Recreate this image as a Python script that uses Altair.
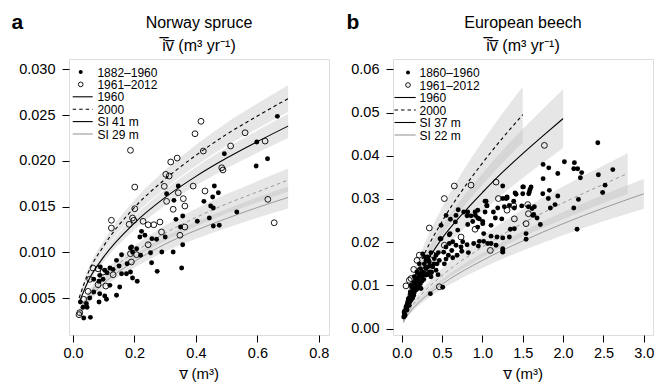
import altair as alt
import pandas as pd

FONT = "Liberation Sans"

# ---------------- Panel a : Norway spruce ----------------
a_fill_v = [0.665,0.598,0.633,0.596,0.4925,0.3425,0.3045,0.46,0.473,0.4545,0.426,0.533,0.4045,0.4566,0.448,0.4436,0.4566,0.476,
            0.357,0.35,0.357,0.3535,0.3285,0.335,0.326,0.30,0.289,0.272,0.2567,0.2524,0.2557,0.274,0.234,0.223,0.2175,0.22,0.207,
            0.1905,0.1937,0.187,0.176,0.187,0.1937,0.209,0.158,0.1416,0.15,0.12,0.1305,0.111,0.1034,0.087,0.0848,0.0978,0.158,0.174,
            0.152,0.1416,0.109,0.1034,0.12,0.0848,0.087,0.0675,0.0545,0.0437,0.0457,0.035,0.0567,0.0326,0.0675,0.024,0.089]
a_fill_iv = [0.02486,0.02205,0.02023,0.01943,0.02078,0.01724,0.01640,0.01724,0.01651,0.01604,0.01557,0.0144,0.01339,0.01484,0.01506,0.01375,0.01287,0.01295,
             0.01397,0.01276,0.01083,0.00828,0.01568,0.0136,0.01003,0.01167,0.01003,0.01142,0.01149,0.00995,0.00886,0.00792,0.01186,0.01229,0.01167,0.00967,0.01039,
             0.01058,0.01003,0.01047,0.00875,0.00784,0.00719,0.00683,0.00974,0.00912,0.0085,0.00828,0.00813,0.00777,0.00803,0.00748,0.00683,0.00705,0.00766,0.00766,
             0.0062,0.0053,0.00486,0.00522,0.00639,0.00457,0.00547,0.00566,0.005,0.00438,0.004,0.00282,0.00289,0.004,0.00705,0.00457,0.00839]
a_open_v = [0.187,0.201,0.397,0.4165,0.56,0.625,0.513,0.424,0.484,0.488,0.339,0.318,0.302,0.313,0.297,0.391,0.4295,0.3425,0.359,0.634,0.6546,
            0.364,0.364,0.348,0.326,0.3046,0.288,0.283,0.263,0.2446,0.2446,0.228,0.207,0.201,0.1937,0.1827,0.198,0.125,0.125,0.065,0.187,0.19,
            0.0978,0.1305,0.1067,0.0816,0.049,0.022,0.0196,0.035,0.0545,0.0816]
a_open_iv = [0.02115,0.01713,0.02296,0.02432,0.02307,0.02216,0.02162,0.02107,0.01924,0.0190,0.0203,0.01987,0.01852,0.01834,0.01721,0.01724,0.0167,0.01651,0.01586,0.01579,0.01323,
             0.01506,0.01276,0.01186,0.0147,0.01557,0.01222,0.01331,0.01301,0.01301,0.01083,0.01339,0.00974,0.01476,0.01375,0.01306,0.0135,0.0135,0.01265,0.00828,0.00985,0.00894,
             0.00784,0.00755,0.00631,0.00646,0.00573,0.0034,0.00318,0.00486,0.00705,0.0082]

a_v = [0.02, 0.05, 0.1, 0.2, 0.3, 0.4, 0.5, 0.6, 0.7]
a_k1960 = [0.0045, 0.0069, 0.0095, 0.0132, 0.0160, 0.0183, 0.0203, 0.0221, 0.0238]
a_k1960_lo = [0.00425, 0.00652, 0.00898, 0.01247, 0.01512, 0.01729, 0.01918, 0.02088, 0.02249]
a_k1960_hi = [0.00475, 0.00728, 0.01002, 0.01393, 0.01688, 0.01931, 0.02142, 0.02332, 0.02511]
a_k2000 = [0.0050, 0.0078, 0.0107, 0.0149, 0.0180, 0.0206, 0.0229, 0.0249, 0.0268]
a_k2000_lo = [0.00473, 0.00737, 0.01011, 0.01408, 0.01701, 0.01947, 0.02164, 0.02353, 0.02533]
a_k2000_hi = [0.00528, 0.00823, 0.01129, 0.01572, 0.01899, 0.02173, 0.02416, 0.02627, 0.02827]
a_g1960 = [0.0031, 0.0048, 0.0066, 0.0090, 0.0109, 0.0124, 0.0137, 0.0149, 0.0160]
a_g1960_lo = [0.00287, 0.00444, 0.00611, 0.00833, 0.01008, 0.01147, 0.01267, 0.01378, 0.0148]
a_g1960_hi = [0.00333, 0.00516, 0.0071, 0.00968, 0.01172, 0.01333, 0.01473, 0.01602, 0.0172]
a_g2000 = [0.0035, 0.0053, 0.0073, 0.0100, 0.0121, 0.0138, 0.0153, 0.0166, 0.0179]
a_g2000_lo = [0.00326, 0.00493, 0.00679, 0.0093, 0.01125, 0.01283, 0.01423, 0.01544, 0.01665]
a_g2000_hi = [0.00375, 0.00567, 0.00781, 0.0107, 0.01295, 0.01477, 0.01637, 0.01776, 0.01915]

# ---------------- Panel b : European beech ----------------
b_fill_v = [2.43,2.437,2.616,2.52,2.49,1.252,1.752,1.822,1.752,1.934,2.016,2.14,2.132,2.18,2.214,2.23,1.748,1.83,1.817,1.934,1.603,1.582,1.5,1.417,
            1.388,1.293,1.033,2.19,2.173,2.132,1.842,1.9,1.718,1.677,1.644,1.57,1.636,1.541,1.396,1.487,1.396,1.334,1.305,1.272,1.252,1.19,1.24,
            1.346,1.252,1.252,1.252,1.181,1.107,1.107,1.107,1.169,1.057,1.033,1.004,1.016,1.016,0.942,0.942,0.942,0.962,0.95,0.909,0.859,0.88,
            0.892,0.81,0.81,0.826,0.768,0.756,0.744,0.735,0.694,0.818,0.673,0.673,0.686,0.632,0.632,0.62,0.578,0.549,0.59,0.59,0.603,0.549,
            0.528,0.52,0.487,0.466,0.454,0.425,0.438,0.404,0.384,0.363,0.363,0.342,0.322,0.301,0.289,0.273,0.26,0.508,0.355,0.218,0.19,0.206,
            0.239,0.165,0.149,0.115,0.094,0.066,0.041,0.025,0.074,0.136,0.177,0.115,0.156,0.206,0.231,0.26,0.28,0.301,0.322,0.342,0.053,0.082,
            0.107,0.131,0.156,0.177,0.032,0.066,0.094,0.136,0.156,0.198,0.231,0.248,0.301,0.363,1.508,1.59,1.574,1.615,1.624,1.541,1.334,1.252,
            1.136,1.16,1.066,0.818,0.913,0.962,1.004,1.045,1.054,0.665,0.599,0.475,0.425,0.384,0.301,0.322,1.5,1.405,1.305,
            0.03,0.04,0.05,0.06,0.07,0.08,0.09,0.10,0.11,0.12,0.13,0.14,0.15,0.16,0.17,0.18,0.19,0.20,0.21,0.22,0.24,0.25,0.27,0.29,0.33,0.35,
            0.37,0.40,0.45,0.487,0.55,0.70]
b_fill_iv = [0.0430,0.0356,0.0368,0.0332,0.0315,0.0330,0.0380,0.0372,0.0347,0.0359,0.0386,0.0384,0.0370,0.0370,0.0349,0.0361,0.0312,0.0320,0.0301,0.0307,0.0328,0.0316,0.0312,0.0311,
             0.0295,0.0301,0.0295,0.0299,0.0230,0.0279,0.0279,0.0287,0.0241,0.0256,0.0282,0.0282,0.0264,0.0207,0.0231,0.0284,0.0279,0.0285,0.0302,0.0282,0.0301,0.0279,0.0254,
             0.0230,0.0210,0.0185,0.0177,0.0212,0.0239,0.0214,0.0197,0.0193,0.0284,0.0270,0.0243,0.0220,0.0202,0.0274,0.0256,0.0235,0.0202,0.0191,0.0270,0.0261,0.0248,
             0.0197,0.0261,0.0194,0.0176,0.0270,0.0201,0.0179,0.0189,0.0228,0.0241,0.0262,0.0193,0.0170,0.0201,0.0164,0.0181,0.0170,0.0161,0.0197,0.0217,0.0253,0.0189,
             0.0150,0.0177,0.0208,0.0158,0.0176,0.0135,0.0150,0.0162,0.0145,0.0176,0.0131,0.0154,0.0125,0.0140,0.0166,0.0114,0.0173,0.0096,0.0081,0.0150,0.0131,0.0112,
             0.0093,0.0093,0.0077,0.0066,0.0054,0.0043,0.0032,0.0027,0.0062,0.0085,0.0108,0.0100,0.0120,0.0127,0.0139,0.0131,0.0150,0.0158,0.0143,0.0131,0.0050,0.0069,
             0.0085,0.0096,0.0106,0.0114,0.0040,0.0056,0.0071,0.0071,0.0085,0.0093,0.0104,0.0120,0.0124,0.0120,0.0328,0.0322,0.0312,0.0278,0.0262,0.0220,0.0212,0.0181,
             0.0270,0.0256,0.0197,0.0270,0.0262,0.0254,0.0248,0.0295,0.0285,0.0247,0.0220,0.0208,0.0170,0.0143,0.0139,0.0166,0.0328,0.0314,0.0305,
             0.0036,0.0030,0.0045,0.0048,0.0052,0.0058,0.0065,0.0062,0.0075,0.0072,0.0080,0.0090,0.0082,0.0095,0.0100,0.0090,0.0110,0.0118,0.0098,0.0122,0.0128,0.0110,0.0125,0.0128,0.0160,0.0145,
             0.0130,0.0150,0.0125,0.0239,0.0262,0.0275]
b_open_v = [1.768,1.169,0.859,0.652,0.528,0.342,0.218,0.115,0.19,0.053,0.149,0.384,0.466,0.528,0.735,0.909,1.098,1.198,1.305,1.388,1.396,1.541,1.562,1.57,0.094]
b_open_iv = [0.0424,0.0339,0.0332,0.0330,0.0301,0.0233,0.0170,0.0116,0.0158,0.0099,0.0137,0.0171,0.0097,0.0193,0.0212,0.0230,0.0181,0.0301,0.0274,0.0284,0.0254,0.0243,0.0287,0.0266,0.0112]

b_k1960_v = [0.02, 0.05, 0.1, 0.25, 0.5, 0.75, 1.0, 1.25, 1.5, 1.75, 2.0]
b_k1960 = [0.0030, 0.0052, 0.0078, 0.0135, 0.0209, 0.0265, 0.0315, 0.0362, 0.0405, 0.0446, 0.0486]
b_k1960_lo = [0.00258, 0.00447, 0.00671, 0.01161, 0.01797, 0.02279, 0.02709, 0.03113, 0.03483, 0.03836, 0.0418]
b_k1960_hi = [0.00342, 0.00593, 0.00889, 0.01539, 0.02383, 0.03021, 0.03591, 0.04127, 0.04617, 0.05084, 0.0554]
b_k2000_v = [0.02, 0.05, 0.1, 0.25, 0.5, 0.75, 1.0, 1.25, 1.5]
b_k2000 = [0.0033, 0.0058, 0.0090, 0.0160, 0.0248, 0.0320, 0.0383, 0.0441, 0.0495]
b_k2000_lo = [0.00287, 0.00505, 0.00783, 0.01392, 0.02158, 0.02784, 0.03332, 0.03837, 0.04307]
b_k2000_hi = [0.00373, 0.00655, 0.01017, 0.01808, 0.02802, 0.03616, 0.04328, 0.04983, 0.05594]
b_g1960_v = [0.02, 0.05, 0.1, 0.25, 0.5, 1.0, 1.5, 2.0, 2.5, 3.0]
b_g1960 = [0.0014, 0.0025, 0.0038, 0.0067, 0.0103, 0.0158, 0.0203, 0.0243, 0.0279, 0.0312]
b_g1960_lo = [0.00125, 0.00223, 0.00338, 0.00596, 0.00917, 0.01406, 0.01807, 0.02163, 0.02483, 0.02777]
b_g1960_hi = [0.00155, 0.00278, 0.00422, 0.00744, 0.01143, 0.01754, 0.02253, 0.02697, 0.03097, 0.03463]
b_g2000_v = [0.02, 0.05, 0.1, 0.25, 0.5, 1.0, 1.5, 2.0, 2.5, 2.8]
b_g2000 = [0.0017, 0.0030, 0.0045, 0.0080, 0.0123, 0.0189, 0.0244, 0.0291, 0.0334, 0.0359]
b_g2000_lo = [0.00148, 0.00261, 0.00392, 0.00696, 0.0107, 0.01644, 0.02123, 0.02532, 0.02906, 0.03123]
b_g2000_hi = [0.00192, 0.00339, 0.00509, 0.00904, 0.0139, 0.02136, 0.02757, 0.03288, 0.03774, 0.04057]

W, H = 260, 276
GRAY = "#9a9a9a"
DASH = [3.5, 3]


def one(text):
    return pd.DataFrame({"t": [text]})


def panel(letter, title, xdom, xticks, xfmt, ydom, yticks, yfmt,
          fills, opens, curves, legend_labels, leg):
    xs = alt.Scale(domain=xdom, nice=False, zero=False)
    ys = alt.Scale(domain=ydom, nice=False, zero=False)
    xaxis = alt.Axis(values=xticks, format=xfmt, tickSize=7, labelPadding=4,
                     labelFontSize=14.5, labelFont=FONT, labelColor="black",
                     tickColor="black", domain=False, grid=False,
                     title="v\u0305 (m\u00b3)", titleFont=FONT, titleFontSize=15,
                     titleFontWeight="normal", titleColor="black", titlePadding=7,
                     labelFlush=False, labelOverlap=False)
    yaxis = alt.Axis(values=yticks, format=yfmt, tickSize=7, labelPadding=7,
                     labelFontSize=14.5, labelFont=FONT, labelColor="black",
                     tickColor="black", domain=False, grid=False, title=None,
                     labelFlush=False, labelOverlap=False)
    X = alt.X("v:Q", scale=xs, axis=xaxis)

    layers = []
    # confidence bands
    for (v, m, lo, hi, col, dash) in curves:
        df = pd.DataFrame({"v": v, "iv": m, "lo": lo, "hi": hi})
        layers.append(alt.Chart(df).mark_area(color="#bdbdbd", opacity=0.38, interpolate="monotone").encode(
            x=X, y=alt.Y("lo:Q", scale=ys, axis=yaxis), y2="hi:Q"))
    # fitted curves
    for (v, m, lo, hi, col, dash) in curves:
        df = pd.DataFrame({"v": v, "iv": m})
        kw = dict(color=col, strokeWidth=1.1 if col == "black" else 1.0, interpolate="monotone")
        if dash:
            kw["strokeDash"] = DASH
        layers.append(alt.Chart(df).mark_line(**kw).encode(
            x=X, y=alt.Y("iv:Q", scale=ys, axis=yaxis)))
    # observations
    fv, fiv = fills
    ov, oiv = opens
    layers.append(alt.Chart(pd.DataFrame({"v": ov, "iv": oiv})).mark_point(
        shape="circle", filled=False, size=34, color="black", strokeWidth=0.9, opacity=1).encode(
        x=X, y=alt.Y("iv:Q", scale=ys, axis=yaxis)))
    layers.append(alt.Chart(pd.DataFrame({"v": fv, "iv": fiv})).mark_point(
        shape="circle", filled=True, size=24, color="black", opacity=1).encode(
        x=X, y=alt.Y("iv:Q", scale=ys, axis=yaxis)))

    # legend (inside top-left)
    lx1, lx2, ldot, ltxt, ly0, dy = leg
    rows = [ly0 + i * dy for i in range(6)]
    layers.append(alt.Chart(one("")).mark_point(shape="circle", filled=True, size=16, color="black", opacity=1).encode(
        x=alt.value(ldot), y=alt.value(rows[0])))
    layers.append(alt.Chart(one("")).mark_point(shape="circle", filled=False, size=22, color="black", strokeWidth=0.9, opacity=1).encode(
        x=alt.value(ldot), y=alt.value(rows[1])))
    styles = [("black", None), ("black", DASH), ("black", None), (GRAY, None)]
    for i, (c, d) in enumerate(styles):
        kw = dict(color=c, strokeWidth=1.1)
        if d:
            kw["strokeDash"] = d
        layers.append(alt.Chart(one("")).mark_rule(**kw).encode(
            x=alt.value(lx1), x2=alt.value(lx2), y=alt.value(rows[i + 2])))
    for i, lab in enumerate(legend_labels):
        layers.append(alt.Chart(one(lab)).mark_text(font=FONT, fontSize=12, align="left", baseline="middle", color="black").encode(
            text="t:N", x=alt.value(ltxt), y=alt.value(rows[i] + 0.5)))

    # titles & panel letter
    layers.append(alt.Chart(one(title)).mark_text(font=FONT, fontSize=16, align="center", baseline="alphabetic", color="black").encode(
        text="t:N", x=alt.value(W / 2), y=alt.value(-31)))
    layers.append(alt.Chart(one("i\u0305v\u0305 (m\u00b3 yr\u207b\u00b9)")).mark_text(font=FONT, fontSize=16, align="center", baseline="alphabetic", color="black").encode(
        text="t:N", x=alt.value(W / 2), y=alt.value(-8)))
    layers.append(alt.Chart(one(letter[0])).mark_text(font=FONT, fontSize=21, fontWeight="bold", align="left", baseline="alphabetic", color="black").encode(
        text="t:N", x=alt.value(letter[1]), y=alt.value(-30)))

    return alt.layer(*layers).properties(width=W, height=H)


pa = panel(("a", -57.5), "Norway spruce",
           [-0.013, 0.833], [0, 0.2, 0.4, 0.6, 0.8], ".1f",
           [0.00096, 0.03113], [0.005, 0.010, 0.015, 0.020, 0.025, 0.030], ".3f",
           (a_fill_v, a_fill_iv), (a_open_v, a_open_iv),
           [(a_v, a_k1960, a_k1960_lo, a_k1960_hi, "black", False),
            (a_v, a_k2000, a_k2000_lo, a_k2000_hi, "black", True),
            (a_v, a_g1960, a_g1960_lo, a_g1960_hi, GRAY, False),
            (a_v, a_g2000, a_g2000_lo, a_g2000_hi, GRAY, True)],
           ["1882\u20131960", "1961\u20132012", "1960", "2000", "SI 41 m", "SI 29 m"],
           (3.7, 23.7, 11.7, 28.4, 13, 12.4))

pb = panel(("b", -46.5), "European beech",
           [-0.108, 3.114], [0, 0.5, 1.0, 1.5, 2.0, 2.5, 3.0], ".1f",
           [-0.00146, 0.06238], [0, 0.01, 0.02, 0.03, 0.04, 0.05, 0.06], ".2f",
           (b_fill_v, b_fill_iv), (b_open_v, b_open_iv),
           [(b_k1960_v, b_k1960, b_k1960_lo, b_k1960_hi, "black", False),
            (b_k2000_v, b_k2000, b_k2000_lo, b_k2000_hi, "black", True),
            (b_g1960_v, b_g1960, b_g1960_lo, b_g1960_hi, GRAY, False),
            (b_g2000_v, b_g2000, b_g2000_lo, b_g2000_hi, GRAY, True)],
           ["1860\u20131960", "1961\u20132012", "1960", "2000", "SI 37 m", "SI 22 m"],
           (1.5, 22.7, 15, 26.5, 13.5, 12.5))

chart = alt.hconcat(pa, pb, spacing=64, bounds="flush").properties(
    padding={"left": 3, "top": 3, "right": 5, "bottom": 2}
).configure_view(stroke="black", strokeWidth=1.2).configure(background="white")

chart.save("out.html", embed_options={"renderer": "svg", "actions": False})
